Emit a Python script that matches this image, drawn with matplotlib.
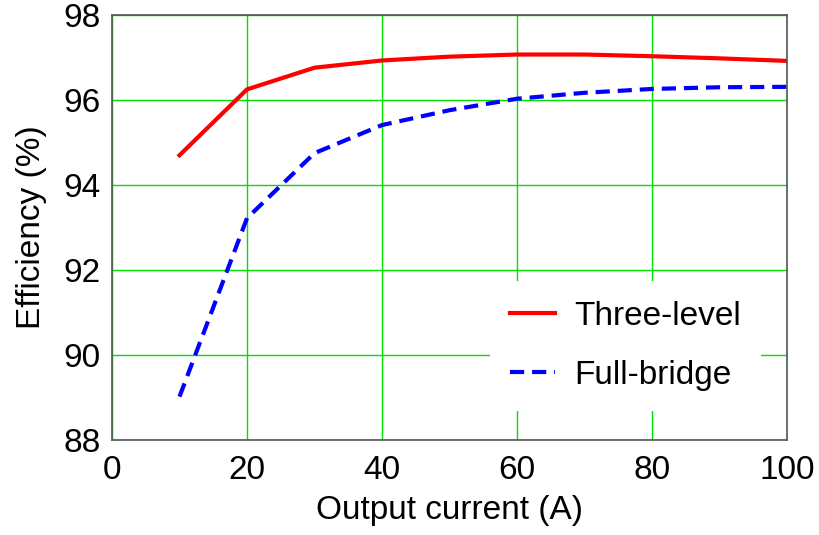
import matplotlib
matplotlib.use("Agg")
import matplotlib.pyplot as plt

# ===== DATA =====
current = [10, 20, 30, 40, 50, 60, 70, 80, 90, 100]
three_level = [94.70, 96.25, 96.76, 96.93, 97.02, 97.07, 97.07, 97.03, 96.98, 96.92]
full_bridge = [89.02, 93.22, 94.75, 95.41, 95.76, 96.03, 96.17, 96.26, 96.30, 96.31]

x_ticks = [0, 20, 40, 60, 80, 100]
y_ticks = [88, 90, 92, 94, 96, 98]

plt.rcParams['font.family'] = ['Liberation Sans', 'DejaVu Sans']

fig = plt.figure(figsize=(8.2, 5.35), dpi=100)
ax = fig.add_axes([112 / 820, 1 - 440 / 535, 675 / 820, 425 / 535])

ax.plot(current, three_level, color='red', lw=3, label='Three-level')
ax.plot(current, full_bridge, color='blue', lw=3, ls=(0, (3.4, 1.9)), label='Full-bridge')

ax.set_xlim(0, 100)
ax.set_ylim(88, 98)
ax.set_xticks(x_ticks)
ax.set_yticks(y_ticks)
ax.tick_params(axis='x', labelsize=24, length=0, pad=11)
ax.tick_params(axis='y', labelsize=24, length=0, pad=8)
ax.grid(True, color='#00e000', lw=1)
ax.set_axisbelow(True)
for s in ax.spines.values():
    s.set_color('#555555')
    s.set_linewidth(1.2)

ax.set_xlabel("Output current (A)", fontsize=24, labelpad=6)
ax.set_ylabel("Efficiency (%)", fontsize=24, labelpad=12)

leg = ax.legend(loc='lower right', bbox_to_anchor=(0.962, 0.068), fontsize=24,
                frameon=True, fancybox=False, handlelength=1.35, handletextpad=0.6,
                labelspacing=0.85, borderpad=0.6, borderaxespad=0)
leg.get_frame().set_facecolor('white')
leg.get_frame().set_edgecolor('none')
leg.get_frame().set_alpha(1)

fig.savefig("out.png", dpi=100)
